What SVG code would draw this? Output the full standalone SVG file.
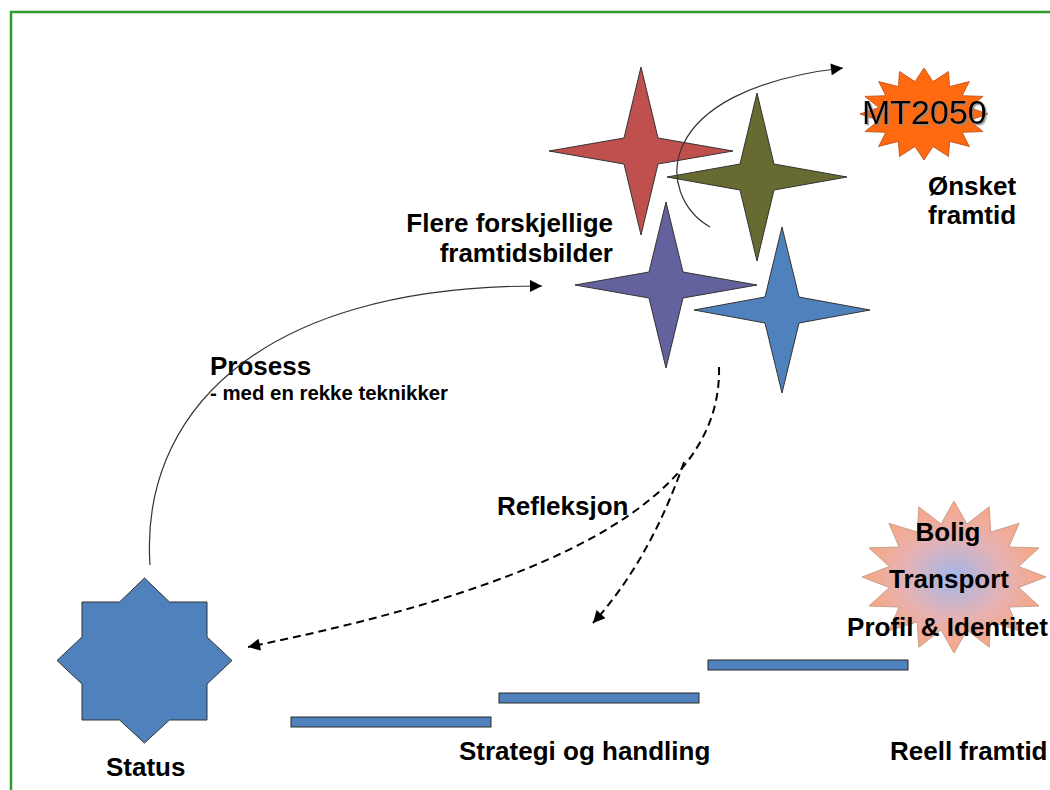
<svg xmlns="http://www.w3.org/2000/svg" width="1050" height="790" viewBox="0 0 1050 790">
<style>
.lbl{font-family:"Liberation Sans",Arial,sans-serif;font-weight:bold;font-size:26px;fill:#000}
.sm{font-size:20.4px}
.star{stroke:#333;stroke-width:1}
.thin{fill:none;stroke:#333;stroke-width:1.2}
.dash{fill:none;stroke:#000;stroke-width:2;stroke-dasharray:8 5}
.bar{fill:#4F81BD;stroke:#2b2b2b;stroke-width:1}
</style>
<defs>
<marker id="ah" viewBox="0 0 10 10" refX="10" refY="5" markerWidth="16" markerHeight="12" markerUnits="userSpaceOnUse" orient="auto"><path d="M0,0 L10,5 L0,10 Z" fill="#000"/></marker>
<radialGradient id="burst" cx="50%" cy="50%" r="50%">
<stop offset="0" stop-color="#A2B6E8"/>
<stop offset="0.55" stop-color="#E6B2B4"/>
<stop offset="1" stop-color="#F8A682"/>
</radialGradient>
<filter id="sh" x="-10%" y="-10%" width="130%" height="140%"><feDropShadow dx="1.5" dy="1.5" stdDeviation="0.6" flood-color="#888" flood-opacity="0.8"/></filter>
</defs>
<rect width="1050" height="790" fill="#fff"/>
<rect x="11" y="12" width="1100" height="900" fill="none" stroke="#2E9B2E" stroke-width="2.5"/>

<g id="status">
<path d="M144.5,578 L169.5,602 L207,602 L207,637 L232,660.5 L207,684 L207,720 L169.5,720 L144.5,743 L119.5,720 L82,720 L82,684 L57,660.5 L82,637 L82,602 L119.5,602 Z" fill="#4F81BD" stroke="#333" stroke-width="1"/>
<text class="lbl" x="106" y="776">Status</text>
</g>

<g id="bars">
<rect class="bar" x="291" y="717" width="200" height="10"/>
<rect class="bar" x="499" y="693" width="200" height="10"/>
<rect class="bar" x="708" y="660" width="200" height="10"/>
<text class="lbl" x="459" y="760">Strategi og handling</text>
</g>

<g id="reell">
<text class="lbl" x="890" y="760">Reell framtid</text>
</g>

<g id="stars">
<path class="star" fill="#C0504D" d="M641,67 L658,138 L733,151 L658,164 L641,235 L624,164 L549,151 L624,138 Z"/>
<path class="star" fill="#676A31" d="M757,93 L774,164 L847,177 L774,190 L757,261 L740,190 L667,177 L740,164 Z"/>
<path class="star" fill="#64629E" d="M666,202 L683,272 L757,285 L683,298 L666,368 L649,298 L575,285 L649,272 Z"/>
<path class="star" fill="#4F81BD" d="M782,227 L799,297 L870,310 L799,323 L782,393 L765,323 L694,310 L765,297 Z"/>
<text class="lbl" x="613" y="232" text-anchor="end">Flere forskjellige</text>
<text class="lbl" x="613" y="262" text-anchor="end">framtidsbilder</text>
</g>

<g id="mt2050">
<path d="M924,68 L933,81.6 L948.5,71.5 L949.6,86.6 L969.3,81.5 L962.2,95.7 L983.1,96.4 L969.1,107.6 L988,114 L969.1,120.4 L983.1,131.6 L962.2,132.3 L969.3,146.5 L949.6,141.4 L948.5,156.5 L933,146.4 L924,160 L915,146.4 L899.5,156.5 L898.4,141.4 L878.7,146.5 L885.8,132.3 L864.9,131.6 L878.9,120.4 L860,114 L878.9,107.6 L864.9,96.4 L885.8,95.7 L878.7,81.5 L898.4,86.6 L899.5,71.5 L915,81.6 Z" fill="#FF6A10" stroke="#B84A10" stroke-width="0.8"/>
<text x="862" y="124" font-family="Liberation Sans,Arial,sans-serif" font-size="34" fill="#000" filter="url(#sh)">MT2050</text>
<text class="lbl" x="928" y="195">Ønsket</text>
<text class="lbl" x="928" y="224">framtid</text>
</g>

<g id="tema">
<path d="M954,501 L966.9,524 L989.2,506.8 L990.7,532.1 L1019.1,523.3 L1008.9,547 L1039,547.9 L1018.7,566.5 L1046,577 L1018.7,587.5 L1039,606.1 L1008.9,607 L1019.1,630.7 L990.7,621.9 L989.2,647.2 L966.9,630 L954,653 L941.1,630 L918.8,647.2 L917.3,621.9 L888.9,630.7 L899.1,607 L869,606.1 L889.3,587.5 L862,577 L889.3,566.5 L869,547.9 L899.1,547 L888.9,523.3 L917.3,532.1 L918.8,506.8 L941.1,524 Z" fill="url(#burst)" stroke="#C9A08C" stroke-width="1"/>
<text class="lbl" x="948" y="541" text-anchor="middle">Bolig</text>
<text class="lbl" x="949" y="588" text-anchor="middle">Transport</text>
<text class="lbl" x="947.5" y="636" text-anchor="middle">Profil &amp; Identitet</text>
</g>

<g id="labels">
<text class="lbl" x="210" y="375">Prosess</text>
<text class="lbl sm" x="210" y="400">- med en rekke teknikker</text>
<text class="lbl" x="497" y="515">Refleksjon</text>
</g>

<g id="connectors">
<path class="thin" d="M150,565 C140,420 250,285 542,286" marker-end="url(#ah)"/>
<path class="thin" d="M710,227 C655,195 650,90 843,68" marker-end="url(#ah)"/>
<path class="dash" d="M719,367 C722,490 580,580 248,647" marker-end="url(#ah)"/>
<path class="dash" d="M684,462 Q650,560 593,623" marker-end="url(#ah)"/>
</g>
</svg>
